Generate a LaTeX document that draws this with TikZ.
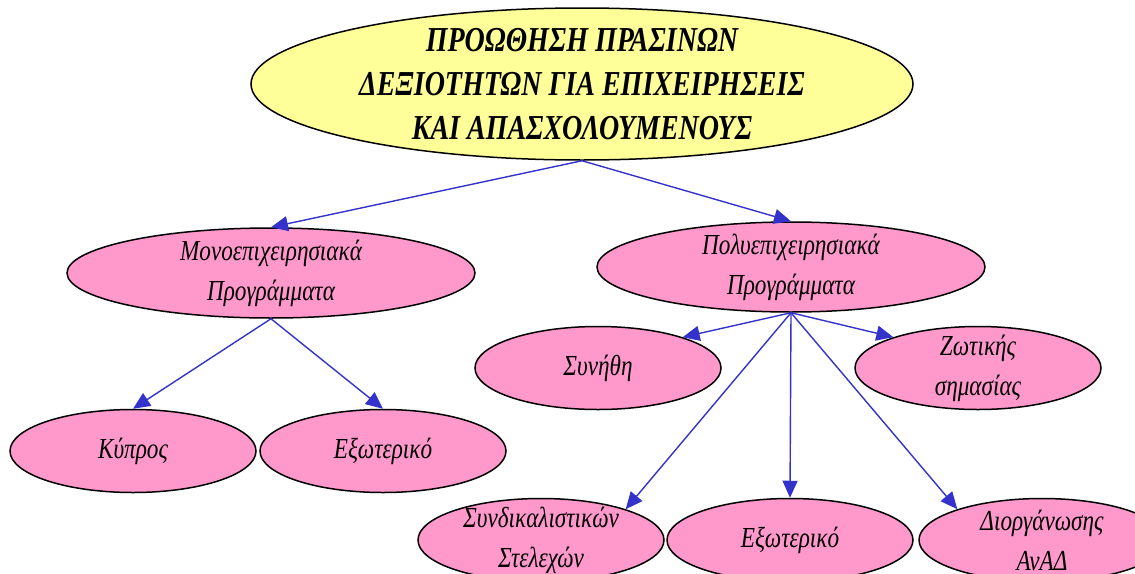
\documentclass[tikz,border=0pt]{standalone}
\usepackage{fontspec}
\setmainfont{Liberation Serif}
\newfontfamily\grfont[FakeStretch=0.8]{Liberation Serif}
\usetikzlibrary{shapes.geometric,arrows.meta}
\definecolor{ovalyellow}{RGB}{255,255,153}
\definecolor{ovalpink}{RGB}{255,153,204}
\definecolor{linkblue}{RGB}{51,51,204}
\begin{document}
\begin{tikzpicture}[x=1pt,y=-1pt,
  oval/.style={ellipse,draw=black,line width=1.5pt,inner xsep=-40pt,inner ysep=-25pt,align=center},
  title/.style={oval,fill=ovalyellow,minimum width=662pt,minimum height=152pt,font=\grfont\bfseries\itshape\fontsize{35}{44}\selectfont},
  topic/.style={oval,fill=ovalpink,minimum height=90pt,font=\grfont\itshape\fontsize{29}{40}\selectfont},
  leaf/.style={oval,fill=ovalpink,minimum width=246pt,minimum height=83pt,font=\grfont\itshape\fontsize{29}{40}\selectfont},
  link/.style={draw=linkblue,line width=1.4pt,-{Triangle[length=17pt,width=15pt]}}]
\useasboundingbox (0,0) rectangle (1135,573);
% top
\node[title] (green) at (582,84) {ΠΡΟΩΘΗΣΗ ΠΡΑΣΙΝΩΝ\\ΔΕΞΙΟΤΗΤΩΝ ΓΙΑ ΕΠΙΧΕΙΡΗΣΕΙΣ\\ΚΑΙ ΑΠΑΣΧΟΛΟΥΜΕΝΟΥΣ};
% two kinds of programmes
\node[topic,minimum width=408pt] (mono) at (271,273) {Μονοεπιχειρησιακά\\Προγράμματα};
\node[topic,minimum width=388pt] (poly) at (791,267) {Πολυεπιχειρησιακά\\Προγράμματα};
% leaves
\node[leaf] (kypros) at (133,451) {Κύπρος};
\node[leaf] (exo1) at (383,451) {Εξωτερικό};
\node[leaf] (synithi) at (598,368) {Συνήθη};
\node[leaf] (zotikis) at (978,368) {Ζωτικής\\σημασίας};
\node[leaf] (syndik) at (541,540) {Συνδικαλιστικών\\Στελεχών};
\node[leaf] (exo2) at (790,540) {Εξωτερικό};
\node[leaf] (diorg) at (1042,540) {Διοργάνωσης\\ΑνΑΔ};
% links
\draw[link] (green.south) -- (mono.north);
\draw[link] (green.south) -- (poly.north);
\draw[link] (mono.south) -- (kypros.north);
\draw[link] (mono.south) -- (exo1.north);
\draw[link] (poly.south) -- (synithi.20);
\draw[link] (poly.south) -- (zotikis.160);
\draw[link] (poly.south) -- (syndik.20);
\draw[link] (poly.south) -- (exo2.north);
\draw[link] (poly.south) -- (diorg.160);
\end{tikzpicture}
\end{document}
